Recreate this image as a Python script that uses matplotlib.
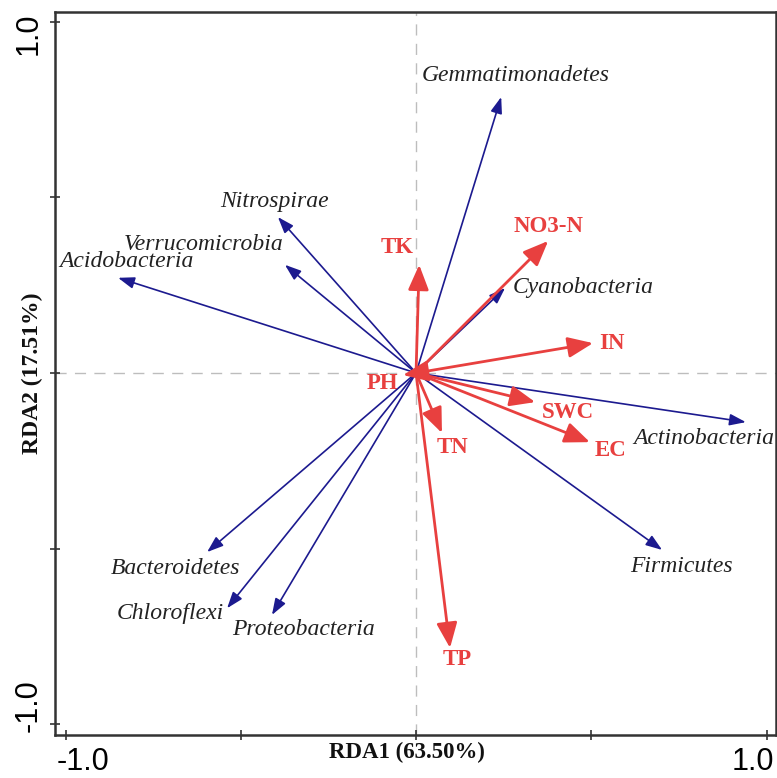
import matplotlib
matplotlib.use("Agg")
import matplotlib.pyplot as plt
import matplotlib.transforms as mtransforms

# ---- data ----
species = ["Gemmatimonadetes", "Nitrospirae", "Verrucomicrobia", "Acidobacteria",
           "Cyanobacteria", "Actinobacteria", "Firmicutes", "Bacteroidetes",
           "Chloroflexi", "Proteobacteria"]
species_rda1 = [0.243, -0.394, -0.374, -0.850, 0.254, 0.941, 0.702, -0.596, -0.539, -0.411]
species_rda2 = [0.786, 0.444, 0.308, 0.271, 0.242, -0.140, -0.504, -0.510, -0.670, -0.689]

env = ["TK", "NO3-N", "IN", "SWC", "EC", "TN", "TP", "PH"]
env_rda1 = [0.009, 0.377, 0.505, 0.340, 0.496, 0.074, 0.097, -0.037]
env_rda2 = [0.308, 0.376, 0.085, -0.083, -0.197, -0.171, -0.783, -0.006]

xlabel = "RDA1 (63.50%)"
ylabel = "RDA2 (17.51%)"
ticks = [-1.0, -0.5, 0.0, 0.5, 1.0]
tick_labels = ["-1.0", "", "", "", "1.0"]

# ---- label offsets (pixels) ----
species_off = {
    "Gemmatimonadetes": (15, 21, "center"), "Nitrospirae": (-3, 16, "center"),
    "Verrucomicrobia": (-81, 20, "center"), "Acidobacteria": (8, 16, "center"),
    "Cyanobacteria": (8, 0, "left"), "Actinobacteria": (-42, -16, "center"),
    "Firmicutes": (19, -17, "center"), "Bacteroidetes": (-32, -16, "center"),
    "Chloroflexi": (-57, -5, "center"), "Proteobacteria": (32, -15, "center"),
}
env_off = {
    "TK": (-22, 17), "NO3-N": (0, 14), "IN": (19, 0), "SWC": (33, -10),
    "EC": (21, -8), "TN": (11, -14), "TP": (7, -12), "PH": (-21, -8),
}

BLUE = "#1c1a8f"
RED = "#e8403f"

fig = plt.figure(figsize=(7.77, 7.78), dpi=100)
ax = fig.add_axes([55 / 777, 1 - 735 / 778, 721 / 777, 723 / 778])
ax.set_xlim(-1.03, 1.027)
ax.set_ylim(-1.031, 1.028)

ax.axhline(0, color="#bdbdbd", lw=1.0, ls=(0, (8, 6)), zorder=1)
ax.axvline(0, color="#bdbdbd", lw=1.0, ls=(0, (8, 6)), zorder=1)

for name, x, y in zip(species, species_rda1, species_rda2):
    ax.annotate("", xy=(x, y), xytext=(0, 0),
                arrowprops=dict(arrowstyle="-|>,head_length=0.7,head_width=0.25",
                                color=BLUE, lw=1.2, shrinkA=0, shrinkB=0,
                                mutation_scale=14), zorder=3)
    dx, dy, ha = species_off[name]
    ax.annotate(name, xy=(x, y), xytext=(dx, dy), textcoords="offset pixels",
                ha=ha, va="center", fontsize=17, style="italic",
                family="Liberation Serif", color="#222222", zorder=5)

for name, x, y in zip(env, env_rda1, env_rda2):
    ax.annotate("", xy=(x, y), xytext=(0, 0),
                arrowprops=dict(arrowstyle="-|>,head_length=0.85,head_width=0.35",
                                color=RED, lw=2.0, shrinkA=0, shrinkB=0,
                                mutation_scale=18), zorder=4)
    dx, dy = env_off[name]
    ax.annotate(name, xy=(x, y), xytext=(dx, dy), textcoords="offset pixels",
                ha="center", va="center", fontsize=16.5, fontweight="bold",
                family="Liberation Serif", color=RED, zorder=5)

ax.set_xticks(ticks)
ax.set_xticklabels(tick_labels)
ax.set_yticks(ticks)
ax.set_yticklabels(tick_labels, rotation=90, va="center")
ax.tick_params(direction="inout", length=7, width=1.2, color="#333333",
               labelsize=22, pad=5)
for lab in ax.get_xticklabels() + ax.get_yticklabels():
    lab.set_family("Liberation Sans")

# nudge tick labels inward as in reference
shifts_x = {0: (17, 0), 4: (-14, 0)}
shifts_y = {0: (0, 18), 4: (0, -12)}
for i, lab in enumerate(ax.get_xticklabels()):
    if i in shifts_x:
        dx, dy = shifts_x[i]
        lab.set_transform(lab.get_transform() + mtransforms.ScaledTranslation(dx / 100, dy / 100, fig.dpi_scale_trans))
for i, lab in enumerate(ax.get_yticklabels()):
    if i in shifts_y:
        dx, dy = shifts_y[i]
        lab.set_transform(lab.get_transform() + mtransforms.ScaledTranslation(dx / 100, dy / 100, fig.dpi_scale_trans))

for s in ax.spines.values():
    s.set_linewidth(1.8)
    s.set_color("#333333")

ax.set_xlabel(xlabel, fontsize=16.5, fontweight="bold", family="Liberation Serif", color="#111111")
ax.set_ylabel(ylabel, fontsize=17, fontweight="bold", family="Liberation Serif", color="#111111")
ax.xaxis.set_label_coords(0.488, -0.010)
ax.yaxis.set_label_coords(-0.017, 0.50)

fig.savefig("out.png", dpi=100)
